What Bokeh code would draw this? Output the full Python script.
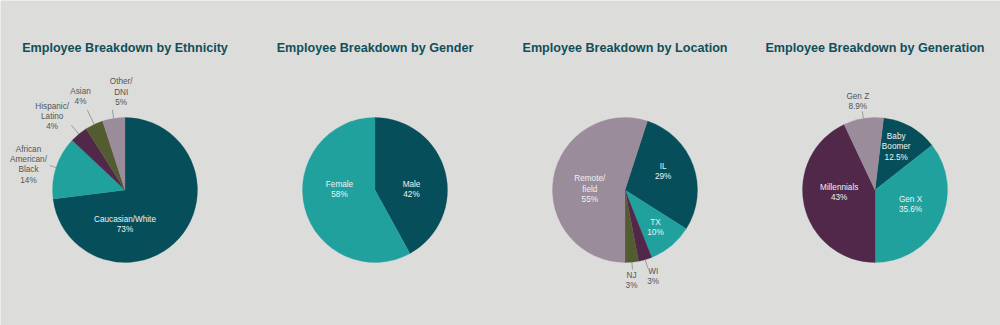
import math
from bokeh.plotting import figure
from bokeh.models import ColumnDataSource, Range1d
from bokeh.core.properties import value
from bokeh.embed import file_html
from bokeh.resources import INLINE

# ---------------- data ----------------
titles = ["Employee Breakdown by Ethnicity", "Employee Breakdown by Gender",
          "Employee Breakdown by Location", "Employee Breakdown by Generation"]

eth_labels = ["Caucasian/White", "African\nAmerican/\nBlack", "Hispanic/\nLatino", "Asian", "Other/\nDNI"]
eth_values = [73, 14, 4, 4, 5]

gender_labels = ["Male", "Female"]
gender_values = [42, 58]

loc_labels = ["IL", "TX", "WI", "NJ", "Remote/\nfield"]
loc_values = [29, 10, 3, 3, 55]

gen_labels = ["Baby\nBoomer", "Gen X", "Millennials", "Gen Z"]
gen_values = [12.5, 35.6, 43, 8.9]

# ---------------- style / layout ----------------
BG = "#dcdcda"
DARK = "#064f5a"
TEAL = "#21a19e"
PURPLE = "#52284a"
OLIVE = "#535c30"
MAUVE = "#9b8c9b"
IN_TXT = "#eef2f2"
OUT_TXT = "#555555"
FONT = "Liberation Sans"

W, H = 1000, 325
R = 72.5
CY = H - 189.5
TITLE_Y = H - 47

pies = [
    dict(labels=eth_labels, values=eth_values, rot=0.0,
         colors=[DARK, TEAL, PURPLE, OLIVE, MAUVE],
         txt=[IN_TXT, OUT_TXT, OUT_TXT, OUT_TXT, OUT_TXT],
         off=[(0, 34.2), (-96.5, -25.3), (-72.8, -73.5), (-44.5, -93.2), (-3.8, -97.7)],
         lead=[0, 1.09, 1.16, 1.22, 1.12]),
    dict(labels=gender_labels, values=gender_values, rot=0.0,
         colors=[DARK, TEAL], txt=[IN_TXT, IN_TXT],
         off=[(36.5, -0.7), (-35.5, -0.7)], lead=[0, 0]),
    dict(labels=loc_labels, values=loc_values, rot=18.0,
         colors=[DARK, TEAL, PURPLE, OLIVE, MAUVE],
         txt=[IN_TXT, IN_TXT, OUT_TXT, OUT_TXT, IN_TXT],
         off=[(38.2, -18.2), (30.5, 37.3), (28.2, 86.2), (6.5, 90.5), (-35.2, -0.9)],
         lead=[0, 0, 1.12, 1.1, 0]),
    dict(labels=gen_labels, values=gen_values, rot=6.84,
         colors=[DARK, TEAL, PURPLE, MAUVE],
         txt=[IN_TXT, IN_TXT, IN_TXT, OUT_TXT],
         off=[(21.2, -43.2), (35.5, 14.7), (-35.8, 2.5), (-17.2, -88.7)],
         lead=[0, 0, 0, 1.1]),
]


def pct(v):
    return ("%d%%" % v) if float(v).is_integer() else ("%.1f%%" % v)


p = figure(width=W, height=H, output_backend="svg", toolbar_location=None,
           x_range=Range1d(0, W), y_range=Range1d(0, H), min_border=0,
           background_fill_color=BG, border_fill_color=BG, outline_line_color=None)
p.axis.visible = False
p.grid.visible = False

for i, pie in enumerate(pies):
    cx = 124.5 + 250 * i
    vals = pie["values"]
    total = float(sum(vals))
    starts, ends, mids = [], [], []
    acc = pie["rot"] / 360.0 * total
    for v in vals:
        a0 = acc / total * 2 * math.pi
        a1 = (acc + v) / total * 2 * math.pi
        # clockwise-from-top -> math angle
        starts.append(math.pi / 2 - a1)
        ends.append(math.pi / 2 - a0)
        mids.append((a0 + a1) / 2)
        acc += v
    src = ColumnDataSource(dict(x=[cx] * len(vals), y=[CY] * len(vals),
                                s=starts, e=ends, c=pie["colors"]))
    p.wedge(x="x", y="y", radius=R, start_angle="s", end_angle="e",
            direction="anticlock", fill_color="c", line_color="c", line_width=0.3,
            source=src)

    # leader lines
    lx0, ly0, lx1, ly1 = [], [], [], []
    for m, k in zip(mids, pie["lead"]):
        if k:
            lx0.append(cx + R * math.sin(m)); ly0.append(CY + R * math.cos(m))
            lx1.append(cx + k * R * math.sin(m)); ly1.append(CY + k * R * math.cos(m))
    if lx0:
        p.segment(x0=lx0, y0=ly0, x1=lx1, y1=ly1, line_color="#8a8a8a", line_width=0.8)

    # labels
    tx, ty, tt = [], [], []
    for lab, v, (dx, dy) in zip(pie["labels"], vals, pie["off"]):
        tx.append(cx + dx); ty.append(CY - dy); tt.append(lab + "\n" + pct(v))
    lsrc = ColumnDataSource(dict(x=tx, y=ty, t=tt, c=pie["txt"]))
    p.text(x="x", y="y", text="t", text_color="c", source=lsrc,
           text_font=value(FONT), text_font_size="8.2px", text_align="center",
           text_baseline="middle", text_line_height=1.15)

    p.text(x=[cx], y=[TITLE_Y], text=[titles[i]], text_color="#0f4f5a",
           text_font=value(FONT), text_font_size="12.6px", text_font_style="bold",
           text_align="center", text_baseline="middle")

open("out.html", "w").write(file_html(p, INLINE))
